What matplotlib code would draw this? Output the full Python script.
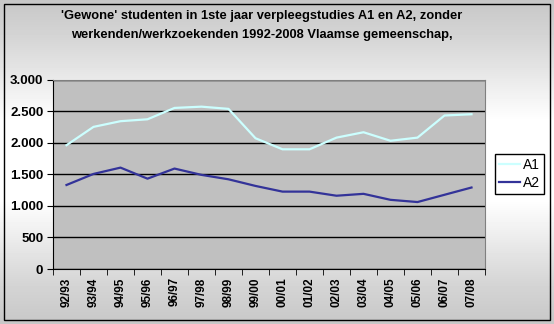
import numpy as np
import matplotlib
matplotlib.use('Agg')
import matplotlib.pyplot as plt
from matplotlib.ticker import FuncFormatter
from matplotlib.patches import Rectangle

plt.rcParams['font.family'] = ['Liberation Sans', 'DejaVu Sans']

# data
years = ['92/93', '93/94', '94/95', '95/96', '96/97', '97/98', '98/99', '99/00',
         '00/01', '01/02', '02/03', '03/04', '04/05', '05/06', '06/07', '07/08']
a1 = [1960, 2250, 2340, 2370, 2550, 2570, 2535, 2070,
      1895, 1895, 2080, 2165, 2030, 2080, 2430, 2450]
a2 = [1330, 1505, 1605, 1430, 1590, 1490, 1420, 1315,
      1225, 1225, 1160, 1190, 1095, 1060, 1175, 1290]

W, H = 554, 324
fig = plt.figure(figsize=(W / 100, H / 100), dpi=100)

# background gradient (grey -> white -> grey)
bg = fig.add_axes([0, 0, 1, 1])
ys = np.arange(H)
shade = np.interp(ys, [0, 40, 120, 200, 280, 324], [0.78, 0.84, 1.0, 1.0, 0.84, 0.78])
img = np.repeat(shade[:, None], 2, axis=1)
bg.imshow(img, cmap='gray', vmin=0, vmax=1, aspect='auto', extent=[0, W, H, 0])
bg.add_patch(Rectangle((4, 4), W - 8, H - 8, fill=False, edgecolor='black', lw=1))
bg.set_xlim(0, W)
bg.set_ylim(H, 0)
bg.axis('off')

fig.text(262 / W, 1 - 16 / H,
         "'Gewone' studenten in 1ste jaar verpleegstudies A1 en A2, zonder",
         ha='center', va='center', fontsize=9.3, fontweight='bold')
fig.text(262 / W, 1 - 35 / H,
         'werkenden/werkzoekenden 1992-2008 Vlaamse gemeenschap,',
         ha='center', va='center', fontsize=9.3, fontweight='bold')

ax = fig.add_axes([53 / W, (H - 269) / H, (485 - 53) / W, (269 - 79.5) / H])
ax.set_facecolor('#C0C0C0')
x = np.arange(len(years))
ax.plot(x, a1, color='#CCFFFF', lw=1.6, label='A1')
ax.plot(x, a2, color='#333399', lw=1.6, label='A2')

ax.set_xlim(-0.5, len(years) - 0.5)
ax.set_ylim(0, 3000)
ax.set_yticks(np.arange(0, 3001, 500))
ax.yaxis.set_major_formatter(FuncFormatter(lambda v, p: f'{int(v):,}'.replace(',', '.')))
ax.grid(axis='y', color='black', lw=1)
ax.set_axisbelow(True)

ax.set_xticks(x)
ax.set_xticklabels(years, rotation=90)
ax.set_xticks(np.arange(-0.5, len(years)), minor=True)
ax.tick_params(axis='x', which='major', length=0, pad=6)
ax.tick_params(axis='x', which='minor', length=4, color='black', direction='out')
ax.tick_params(axis='y', length=4, color='black', direction='out', pad=3)
for lab in ax.get_xticklabels():
    lab.set_fontsize(8.5)
    lab.set_fontweight('bold')
for lab in ax.get_yticklabels():
    lab.set_fontsize(9.5)
    lab.set_fontweight('bold')

ax.spines['top'].set_color('#808080')
ax.spines['right'].set_color('#808080')
ax.spines['left'].set_color('black')
ax.spines['bottom'].set_color('black')

leg = fig.legend(loc='upper left', bbox_to_anchor=(495 / W, 1 - 154 / H),
                 frameon=True, fancybox=False, fontsize=10, handlelength=1.5,
                 handletextpad=0.2, borderpad=0.3, labelspacing=0.25,
                 borderaxespad=0)
leg.get_frame().set_edgecolor('black')
leg.get_frame().set_facecolor('white')
leg.get_frame().set_linewidth(1)
leg.get_frame().set_alpha(1)

fig.savefig('out.png', dpi=100)
